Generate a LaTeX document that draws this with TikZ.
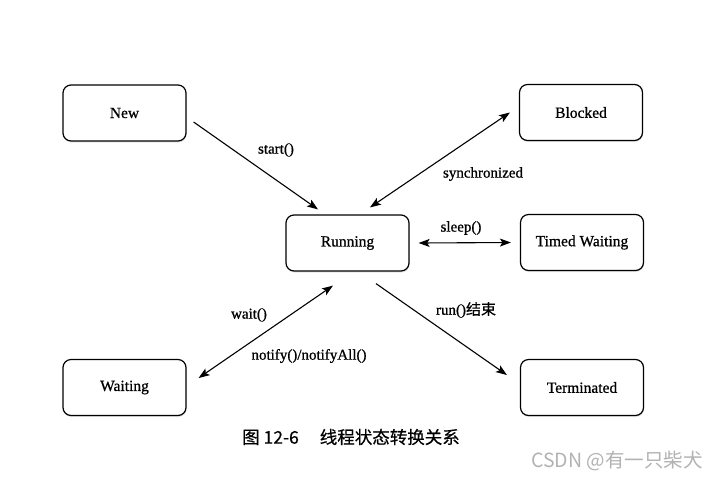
\documentclass[tikz,border=0pt]{standalone}
\usepackage{fontspec}
\setmainfont{Liberation Serif}[FakeBold=0.8]
\newfontfamily\cjk{Noto Sans CJK SC}[FakeBold=0.6]
\newfontfamily\cjkmark{Noto Sans CJK SC}
\usepackage{tikz}
\usetikzlibrary{arrows.meta}
\usetikzlibrary{shadows}
\colorlet{markgray}{black!30}
\tikzstyle{state}=[draw,line width=1.2pt,rounded corners=8pt,minimum width=123pt,minimum height=56pt,font=\fontsize{15.5}{17}\selectfont,fill=white,drop shadow={opacity=.2,shadow xshift=.5pt,shadow yshift=-1.5pt}]
\tikzstyle{tlabel}=[font=\fontsize{15}{17}\selectfont,inner sep=0pt]
\tikzstyle{thead}=[>/.tip={Stealth[length=11pt,width=8pt,inset=2.5pt]}]
\tikzstyle{tr}=[line width=1.1pt,thead,->]
\tikzstyle{tr2}=[line width=1.1pt,thead,<->]

\begin{document}
\begin{tikzpicture}[x=1pt,y=-1pt]
	\useasboundingbox (0,0) rectangle (719,480);
	% states
	\node[state] (new)  at (124.5,113)   {New};
	\node[state] (blk)  at (581,112.5)   {Blocked};
	\node[state] (run)  at (347.5,243)   {Running};
	\node[state] (tw)   at (582,242.5)   {Timed Waiting};
	\node[state] (wt)   at (124.5,387.5) {Waiting};
	\node[state] (term) at (582,387.5)   {Terminated};
	% transitions
	\draw[tr]  ([xshift=7pt,yshift=-9pt]new.east)  -- ([xshift=-29.5pt,yshift=5pt]run.north);
	\draw[tr2] ([xshift=22.5pt,yshift=7pt]run.north) -- ([xshift=-9pt]blk.west);
	\draw[tr2] ([xshift=9pt]run.east) -- ([xshift=-9pt]tw.west);
	\draw[tr2] ([xshift=-14.5pt,yshift=-14pt]run.south) -- ([xshift=12pt,yshift=9.5pt]wt.east);
	\draw[tr]  ([xshift=28.5pt,yshift=-12pt]run.south) -- ([xshift=-13pt,yshift=12.5pt]term.west);
	% labels
	\node[tlabel] (l1) at (276,150) {start()};
	\node[tlabel] (l2) at (483,174) {synchronized};
	\node[tlabel] (l3) at (461,228) {sleep()};
	\node[tlabel] (l4) at (249,315) {wait()};
	\node[tlabel] (l5) at (309,356) {notify()/notifyAll()};
	\node[tlabel] (l6) at (466,310) {run(){\cjk 结束}};
	% caption
	\node[font=\fontsize{17.5}{19}\selectfont\cjk] (cap) at (351,437) {图 12-6\hspace{1.2em}线程状态转换关系};
	\node[font=\fontsize{19.5}{21}\selectfont\cjkmark,text=markgray] (mark) at (617,461) {CSDN @有一只柴犬};
\end{tikzpicture}
\end{document}
